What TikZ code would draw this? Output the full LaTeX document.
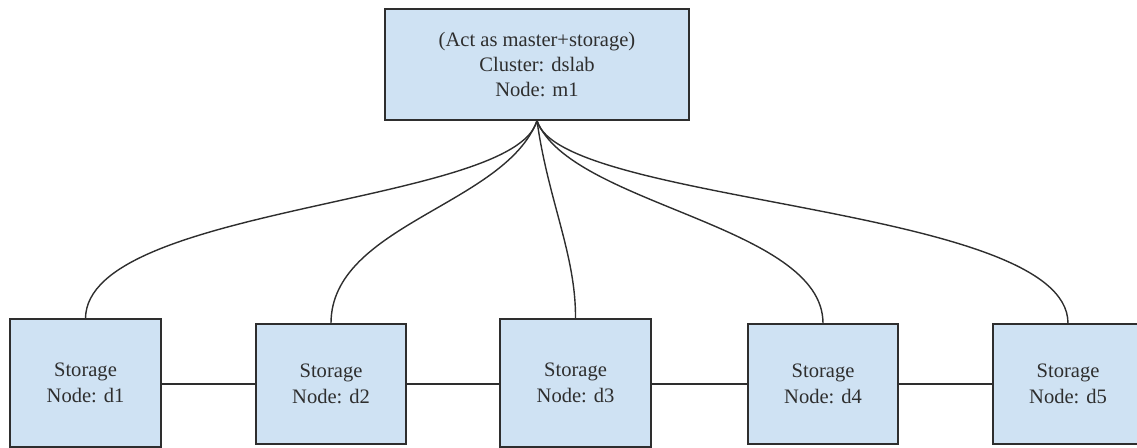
\documentclass[tikz,border=0pt]{standalone}
\usepackage{fontspec}
\setmainfont{Liberation Serif}
\definecolor{boxfill}{HTML}{CFE2F3}
\definecolor{ink}{HTML}{2E2E2E}
\begin{document}
\begin{tikzpicture}[x=0.02cm,y=-0.02cm,
  box/.style={draw=ink, line width=0.8pt, fill=boxfill, text=ink, align=center,
    inner sep=0pt, font=\fontsize{11.7}{14.5}\selectfont},
  link/.style={draw=ink, line width=0.8pt}]
\useasboundingbox (0,0) rectangle (1137,448);
\node[box, minimum width=6.08cm, minimum height=2.22cm] (m) at (537,64.5)
  {(Act as master+storage)\\Cluster: dslab\\Node: m1};
\node[box, minimum width=3.02cm, minimum height=2.56cm] (d1) at (85.5,383) {Storage\\Node: d1};
\node[box, minimum width=3.0cm, minimum height=2.4cm] (d2) at (331,384) {Storage\\Node: d2};
\node[box, minimum width=3.02cm, minimum height=2.56cm] (d3) at (575.5,383) {Storage\\Node: d3};
\node[box, minimum width=3.0cm, minimum height=2.4cm] (d4) at (823,384) {Storage\\Node: d4};
\node[box, minimum width=3.0cm, minimum height=2.4cm] (d5) at (1068,384) {Storage\\Node: d5};
\draw[link] (d1.east |- d2) -- (d2.west);
\draw[link] (d2.east) -- (d3.west |- d2);
\draw[link] (d3.east |- d4) -- (d4.west);
\draw[link] (d4.east) -- (d5.west);
\draw[link] (m.south) .. controls (515,205) and (87,205) .. (d1.north);
\draw[link] (m.south) .. controls (505,205) and (331,225) .. (d2.north);
\draw[link] (m.south) .. controls (548,200) and (576,255) .. (d3.north);
\draw[link] (m.south) .. controls (570,205) and (823,225) .. (d4.north);
\draw[link] (m.south) .. controls (560,205) and (1068,205) .. (d5.north);
\end{tikzpicture}
\end{document}
